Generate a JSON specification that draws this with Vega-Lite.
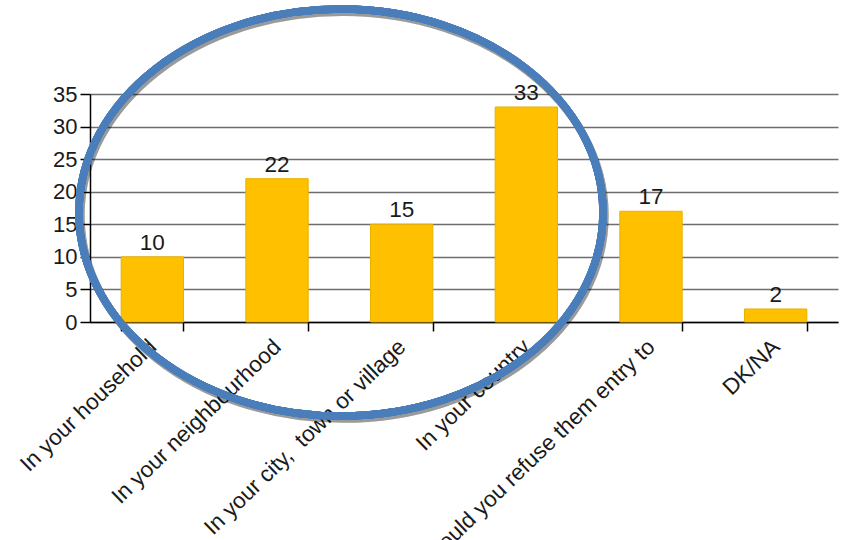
{
  "$schema": "https://vega.github.io/schema/vega-lite/v6.json",
  "width": 748,
  "height": 228,
  "autosize": {"type": "none"},
  "padding": {"left": 90, "top": 94, "right": 6, "bottom": 218},
  "background": "white",
  "data": {
    "values": [
      {"category": "In your household", "value": 10},
      {"category": "In your neighbourhood", "value": 22},
      {"category": "In your city, \u00a0town or village", "value": 15},
      {"category": "In your country", "value": 33},
      {"category": "Would you refuse them entry to", "value": 17},
      {"category": "DK/NA", "value": 2}
    ]
  },
  "encoding": {
    "x": {
      "field": "category",
      "type": "nominal",
      "sort": null,
      "scale": {"paddingInner": 0.5, "paddingOuter": 0.25},
      "axis": {
        "title": null,
        "labelAngle": -44,
        "labelAlign": "right",
        "labelBaseline": "middle",
        "labelFont": "Liberation Sans",
        "labelFontSize": 22.5,
        "labelColor": "#1a1a1a",
        "labelPadding": 12,
        "labelLimit": 500,
        "tickBand": "extent",
        "tickSize": 9,
        "tickColor": "#000000",
        "domainColor": "#000000",
        "domainWidth": 1.5,
        "tickWidth": 1.5,
        "grid": false
      }
    },
    "y": {
      "field": "value",
      "type": "quantitative",
      "scale": {"domain": [0, 35], "nice": false},
      "axis": {
        "title": null,
        "values": [0, 5, 10, 15, 20, 25, 30, 35],
        "labelFont": "Liberation Sans",
        "labelFontSize": 22,
        "labelColor": "#1a1a1a",
        "labelPadding": 3,
        "tickSize": 10,
        "tickColor": "#000000",
        "tickWidth": 1.5,
        "domainColor": "#000000",
        "domainWidth": 1.5,
        "grid": true,
        "gridColor": "#6e6e6e",
        "gridWidth": 1.5
      }
    }
  },
  "layer": [
    {
      "mark": {"type": "bar", "color": "#FFC000", "stroke": "#E8B000", "strokeWidth": 1}
    },
    {
      "mark": {"type": "text", "baseline": "bottom", "dy": -2, "font": "Liberation Sans", "fontSize": 22.5, "color": "#1a1a1a"},
      "encoding": {"text": {"field": "value", "type": "quantitative"}}
    },
    {
      "mark": {
        "type": "point",
        "filled": false,
        "shape": "M -1.2250,0.0110 A 1,0.7767 0 1,0 0.7750,0.0110 A 1,0.7767 0 1,0 -1.2250,0.0110 Z",
        "size": 274576,
        "stroke": "#000000",
        "strokeOpacity": 0.08,
        "strokeWidth": 8,
        "opacity": 1
      },
      "encoding": {
        "x": {"datum": "In your city, \u00a0town or village"},
        "y": {"datum": 16.81}
      }
    },
    {
      "mark": {
        "type": "point",
        "filled": false,
        "shape": "M -1.2317,0 A 1,0.7767 0 1,0 0.7683,0 A 1,0.7767 0 1,0 -1.2317,0 Z",
        "size": 274576,
        "stroke": "#4A7EBB",
        "strokeWidth": 7.5,
        "opacity": 1
      },
      "encoding": {
        "x": {"datum": "In your city, \u00a0town or village"},
        "y": {"datum": 16.81}
      }
    }
  ],
  "config": {"view": {"stroke": null}}
}
